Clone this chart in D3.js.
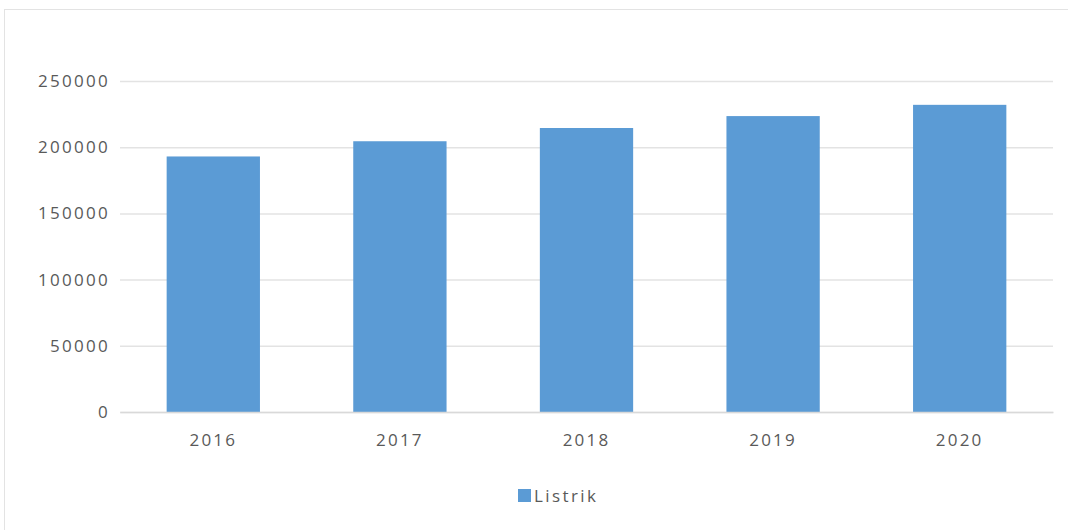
<!DOCTYPE html>
<html>
<head>
<meta charset="utf-8">
<script src="https://cdn.jsdelivr.net/npm/d3@7"></script>
<style>
  html, body { margin: 0; padding: 0; background: #fff; }
  svg { display: block; }
  text { font-family: "Open Sans", sans-serif; fill: #595959; }
</style>
</head>
<body>
<div id="chart"></div>
<script>
const categories = ["2016", "2017", "2018", "2019", "2020"];
const seriesName = "Listrik";
const values = [193000, 204500, 214500, 223500, 232000];
const yTicks = [0, 50000, 100000, 150000, 200000, 250000];

const W = 1068, H = 530;
const svg = d3.select("#chart").append("svg").attr("width", W).attr("height", H);

// chart frame
svg.append("rect").attr("x", 4.5).attr("y", 9.5).attr("width", W + 10).attr("height", H + 10)
  .attr("fill", "none").attr("stroke", "#e3e3e3").attr("stroke-width", 1);

const x = d3.scaleBand().domain(categories).range([120, 1053]).paddingInner(0.5).paddingOuter(0.25);
const y = d3.scaleLinear().domain([0, 250000]).range([412, 81]);

// gridlines
const grid = svg.append("g")
  .call(d3.axisLeft(y).tickValues(yTicks).tickSize(-(1053 - 120)).tickFormat(""))
  .attr("transform", "translate(120,0)");
grid.select(".domain").remove();
grid.selectAll("line").attr("stroke", "#e3e3e3").attr("stroke-width", 1.5);

// y labels
const yAxis = svg.append("g").attr("transform", "translate(110,0)")
  .call(d3.axisLeft(y).tickValues(yTicks).tickSize(0).tickPadding(0).tickFormat(d3.format("d")));
yAxis.select(".domain").remove();
yAxis.selectAll("text").style("font-size", "17px").style("letter-spacing", "2.3px").attr("fill", "#595959");

// bars
svg.append("g").selectAll("rect").data(categories).join("rect")
  .attr("x", d => x(d))
  .attr("y", (d, i) => y(values[i]))
  .attr("width", x.bandwidth())
  .attr("height", (d, i) => y(0) - y(values[i]))
  .attr("fill", "#5b9bd5");

// x axis
const xAxis = svg.append("g").attr("transform", "translate(0,412)")
  .call(d3.axisBottom(x).tickSize(0).tickPadding(22));
xAxis.select(".domain").attr("stroke", "#d9d9d9").attr("stroke-width", 1.5);
xAxis.selectAll("text").style("font-size", "17px").style("letter-spacing", "2.2px").attr("fill", "#595959");

// legend
const lg = svg.append("g").attr("transform", "translate(518,489)");
lg.append("rect").attr("width", 13).attr("height", 13).attr("fill", "#5b9bd5");
lg.append("text").attr("x", 16).attr("y", 7).attr("dy", "0.35em")
  .style("font-size", "17px").style("letter-spacing", "2.4px").text(seriesName);
</script>
</body>
</html>
